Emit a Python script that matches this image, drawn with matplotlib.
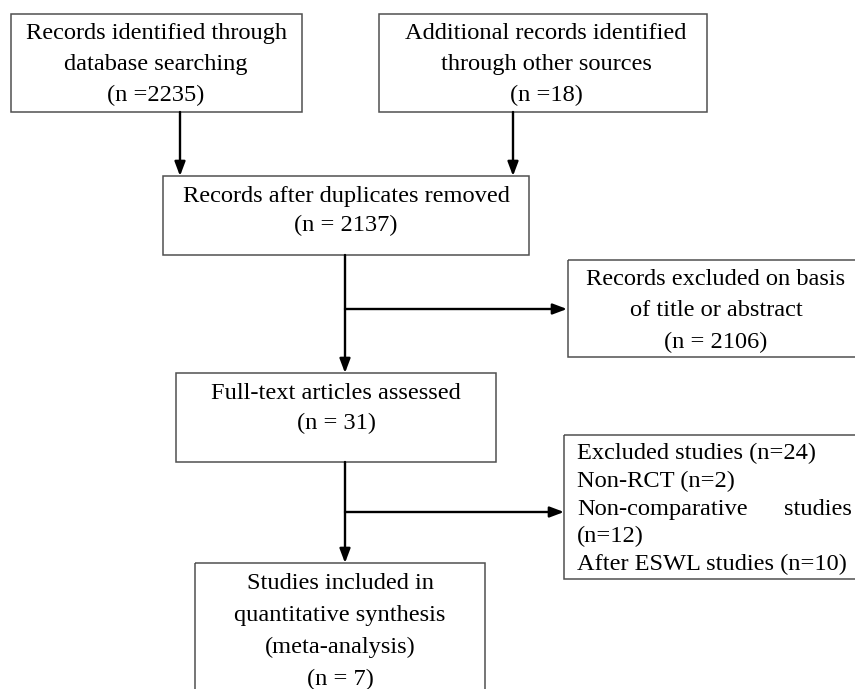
import matplotlib.pyplot as plt
from matplotlib.patches import Rectangle

# box texts (PRISMA flow)
identified_db = ["Records identified through", "database searching", "(n =2235)"]
identified_other = ["Additional records identified", "through other sources", "(n =18)"]
after_duplicates = ["Records after duplicates removed", "(n = 2137)"]
excluded_title = ["Records excluded on basis", "of title or abstract", "(n = 2106)"]
full_text = ["Full-text articles assessed", "(n = 31)"]
excluded_studies = ["Excluded studies (n=24)", "Non-RCT (n=2)", "Non-comparative", "(n=12)",
                    "After ESWL studies (n=10)"]
included = ["Studies included in", "quantitative synthesis", "(meta-analysis)", "(n = 7)"]

W, H = 855, 689
fig = plt.figure(figsize=(W / 100, H / 100), dpi=100)
ax = fig.add_axes([0, 0, 1, 1])
ax.set_xlim(0, W)
ax.set_ylim(H, 0)
ax.axis("off")

FONT = "Liberation Serif"
FS = 17.6
EDGE = "#505050"


def box(x0, y0, x1, y1):
    ax.add_patch(Rectangle((x0, y0), x1 - x0, y1 - y0, fill=False,
                           edgecolor=EDGE, linewidth=1.1))


def lines(cx, y_first, step, texts, ha="center"):
    for i, t in enumerate(texts):
        ax.text(cx, y_first + i * step, t, ha=ha, va="baseline",
                fontsize=FS, family=FONT, color="black")


def arrow(x0, y0, x1, y1):
    ax.annotate("", xy=(x1, y1), xytext=(x0, y0),
                arrowprops=dict(arrowstyle="-|>,head_length=0.85,head_width=0.32",
                                lw=1.7, color="black", shrinkA=0, shrinkB=0))


# boxes
box(11, 14, 302, 112)
lines(156, 39, 31, identified_db)

box(379, 14, 707, 112)
lines(546, 39, 31, identified_other)

box(163, 176, 529, 255)
lines(346, 202, 29, after_duplicates)

box(568, 260, 870, 357)
lines(716, 285, 31.5, excluded_title)

box(176, 373, 496, 462)
lines(336, 399, 30, full_text)

box(564, 435, 870, 579)
lines(577, 459, 27.8, excluded_studies, ha="left")
ax.text(852, 459 + 2 * 27.8, "studies", ha="right", va="baseline",
        fontsize=FS, family=FONT, color="black")

box(195, 563, 485, 720)
lines(340, 589, 32, included)

# arrows
arrow(180, 112, 180, 176)
arrow(513, 112, 513, 176)

arrow(345, 255, 345, 373)
arrow(345, 309, 567, 309)

arrow(345, 462, 345, 563)
arrow(345, 512, 564, 512)

fig.savefig("out.png", dpi=100)
